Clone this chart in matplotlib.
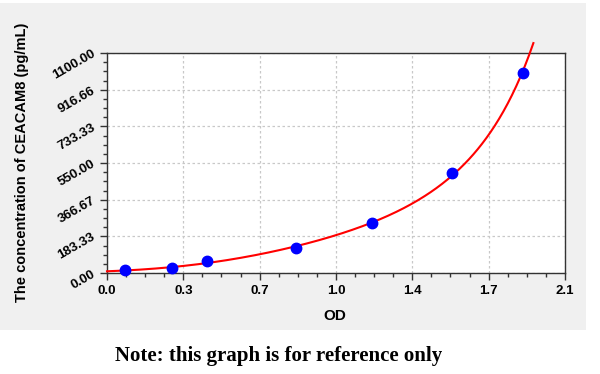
import numpy as np
import matplotlib
matplotlib.use("Agg")
import matplotlib.pyplot as plt
from matplotlib.patches import Rectangle
from matplotlib.ticker import MultipleLocator, FixedLocator

# Data
od = [0.083, 0.298, 0.458, 0.867, 1.215, 1.582, 1.907]
conc = [13, 25, 60, 125, 252, 500, 1000]

x_ticks = [0.0, 0.35, 0.7, 1.05, 1.4, 1.75, 2.1]
x_tick_labels = ["0.0", "0.3", "0.7", "1.0", "1.4", "1.7", "2.1"]
y_ticks = [0.0, 183.33, 366.67, 550.0, 733.33, 916.66, 1100.0]
y_tick_labels = ["0.00", "183.33", "366.67", "550.00", "733.33", "916.66", "1100.00"]

fig = plt.figure(figsize=(6, 3.74), dpi=100)
fig.patch.set_facecolor("white")
fig.patches.append(Rectangle((0, 44 / 374), 586 / 600, 327 / 374,
                             transform=fig.transFigure, facecolor="#f0f0f0",
                             edgecolor="none", zorder=-10))

ax = fig.add_axes([107 / 600, 1 - 273 / 374, 458 / 600, 220 / 374])
ax.set_zorder(1)
ax.set_facecolor("white")

# Fitted curve (cubic fit in log space of concentration)
coef = np.polyfit(od, np.log(conc), 3)
xs = np.linspace(0.0, 1.955, 300)
ys = np.exp(np.polyval(coef, xs))
ax.plot(xs, ys, color="#ff0000", lw=1.5, clip_on=False, zorder=3)
ax.plot(od, conc, "o", color="#0000ff", markersize=7.5, zorder=4, clip_on=False)

ax.set_xlim(0, 2.1)
ax.set_ylim(0, 1100)
ax.xaxis.set_major_locator(FixedLocator(x_ticks))
ax.set_xticklabels(x_tick_labels)
ax.xaxis.set_minor_locator(MultipleLocator(0.0875))
ax.yaxis.set_major_locator(FixedLocator(y_ticks))
ax.set_yticklabels(y_tick_labels)
ax.yaxis.set_minor_locator(MultipleLocator(1100 / 24))

ax.grid(True, which="major", color="#c8c8c8", linestyle=(0, (2, 2)), lw=0.9)
for s in ax.spines.values():
    s.set_color("#333333")
    s.set_linewidth(1.0)

ax.tick_params(axis="both", which="major", length=5, width=1, color="#333333",
               labelsize=9.5, pad=4)
ax.tick_params(axis="both", which="minor", length=3, width=1, color="#333333")
for lab in ax.get_xticklabels():
    lab.set_fontweight("bold")
    lab.set_family("Liberation Sans")
for lab in ax.get_yticklabels():
    lab.set_fontweight("bold")
    lab.set_family("Liberation Sans")
    lab.set_rotation(30)
    lab.set_ha("right")
    lab.set_va("center")
    lab.set_rotation_mode("anchor")

fig.text(335 / 600, 1 - 316 / 374, "OD", ha="center", va="center",
         fontsize=11, fontweight="bold", family="Liberation Sans")
fig.text(22 / 600, 1 - 162 / 374, "The concentration of CEACAM8 (pg/mL)",
         rotation=90, ha="center", va="center", fontsize=10.5,
         fontweight="bold", family="Liberation Sans")
fig.text(279 / 600, 1 - 356 / 374, "Note: this graph is for reference only",
         ha="center", va="center", fontsize=15, fontweight="bold",
         family="Liberation Serif")

fig.savefig("out.png", dpi=100, facecolor=fig.get_facecolor())
